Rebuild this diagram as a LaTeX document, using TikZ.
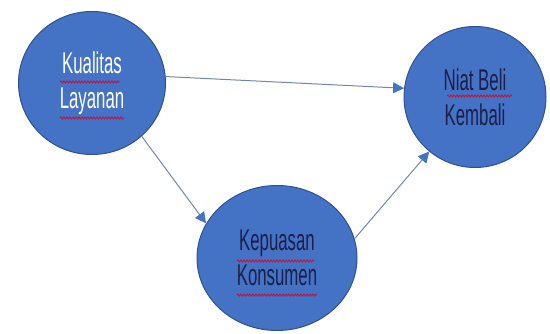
\documentclass[tikz,border=0pt]{standalone}
\usepackage{fontspec}
\setmainfont{Liberation Sans}[FakeStretch=0.56]
\usetikzlibrary{shapes.geometric,arrows.meta,decorations.pathmorphing}

\definecolor{fillblue}{HTML}{4472C4}
\definecolor{edgeblue}{HTML}{2F528F}
\definecolor{linkgrey}{HTML}{7086AE}
\definecolor{navy}{HTML}{1B1F4A}
\definecolor{spellred}{HTML}{C0143C}

\begin{document}
\begin{tikzpicture}[
    x=1pt, y=-1pt,
    bubble/.style={ellipse, draw=edgeblue, line width=1pt, fill=fillblue, inner sep=0pt,
        align=center, text=navy, font=\fontsize{30}{35}\selectfont},
    whitebubble/.style={bubble, text=white},
    link/.style={-{Triangle[length=11pt,width=11pt,color=fillblue,fill=fillblue]},
        draw=linkgrey, line width=1pt},
    squiggle/.style={draw=spellred, line width=0.9pt,
        decorate, decoration={snake, amplitude=1pt, segment length=3pt}}
    ]

    \useasboundingbox (0,0) rectangle (550,334);

    \node[whitebubble, minimum width=147pt, minimum height=143pt] (KL) at (92,83) {Kualitas\\Layanan};
    \node[bubble, minimum width=142pt, minimum height=141pt] (NBK) at (475,97) {Niat Beli\\Kembali};
    \node[bubble, minimum width=160pt, minimum height=145pt] (KK) at (277,258) {Kepuasan\\Konsumen};

    \draw[link] (KL.5) -- (NBK.173);
    \draw[link] (KL.-47) -- (KK.154);
    \draw[link] (KK.14) -- (NBK.230);

    % spelling marks under the words
    \draw[squiggle] (60,82) -- (120,82);
    \draw[squiggle] (60,118) -- (124,118);
    \draw[squiggle] (447,96) -- (512,96);
    \draw[squiggle] (237,261) -- (314,261);
    \draw[squiggle] (237,295) -- (317,295);

\end{tikzpicture}
\end{document}
